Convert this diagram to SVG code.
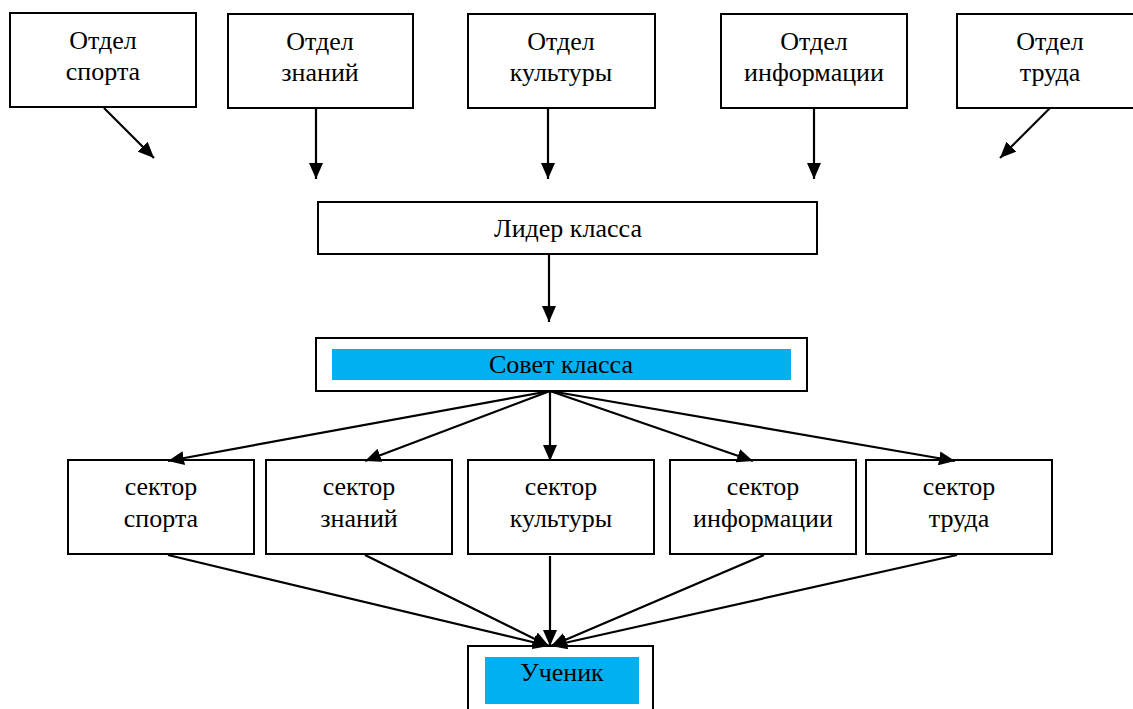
<svg xmlns="http://www.w3.org/2000/svg" width="1133" height="709" viewBox="0 0 1133 709">
<style>
.box{fill:#fff;stroke:#000;stroke-width:2}
.hl{fill:#00B0F0;stroke:none}
.t{font-size:26px;fill:#000;text-anchor:middle}
.c{stroke:#000;stroke-width:2.2;fill:none;marker-end:url(#ah)}
</style>
<defs>
<marker id="ah" viewBox="0 0 16 14" refX="16" refY="7" markerWidth="16" markerHeight="14" markerUnits="userSpaceOnUse" orient="auto">
<path d="M0,0 L16,7 L0,14 z" fill="#000"/>
</marker>
</defs>
<rect width="1133" height="709" fill="#fff"/>
<g font-family="'Liberation Serif', 'Times New Roman', Times, serif">
<g id="otdel-sporta"><rect class="box" x="10" y="13" width="186" height="94"/><text class="t" x="103" y="49">Отдел</text><text class="t" x="103" y="80">спорта</text></g>
<g id="otdel-znaniy"><rect class="box" x="228" y="14" width="185" height="94"/><text class="t" x="320" y="50">Отдел</text><text class="t" x="320" y="81">знаний</text></g>
<g id="otdel-kultury"><rect class="box" x="468" y="14" width="187" height="94"/><text class="t" x="561" y="50">Отдел</text><text class="t" x="561" y="81">культуры</text></g>
<g id="otdel-informatsii"><rect class="box" x="721" y="14" width="186" height="94"/><text class="t" x="814" y="50">Отдел</text><text class="t" x="814" y="81">информации</text></g>
<g id="otdel-truda"><rect class="box" x="957" y="14" width="186" height="94"/><text class="t" x="1050" y="50">Отдел</text><text class="t" x="1050" y="81">труда</text></g>
<g id="lider"><rect class="box" x="318" y="202" width="499" height="52"/><text class="t" x="568" y="237">Лидер класса</text></g>
<g id="sovet"><rect class="box" x="316" y="338" width="491" height="53"/><rect class="hl" x="332" y="349" width="459" height="31"/><text class="t" x="561" y="373">Совет класса</text></g>
<g id="sektor-sporta"><rect class="box" x="68" y="460" width="186" height="94"/><text class="t" x="161" y="495">сектор</text><text class="t" x="161" y="527">спорта</text></g>
<g id="sektor-znaniy"><rect class="box" x="266" y="460" width="186" height="94"/><text class="t" x="359" y="495">сектор</text><text class="t" x="359" y="527">знаний</text></g>
<g id="sektor-kultury"><rect class="box" x="468" y="460" width="186" height="94"/><text class="t" x="561" y="495">сектор</text><text class="t" x="561" y="527">культуры</text></g>
<g id="sektor-informatsii"><rect class="box" x="670" y="460" width="186" height="94"/><text class="t" x="763" y="495">сектор</text><text class="t" x="763" y="527">информации</text></g>
<g id="sektor-truda"><rect class="box" x="866" y="460" width="186" height="94"/><text class="t" x="959" y="495">сектор</text><text class="t" x="959" y="527">труда</text></g>
<g id="uchenik"><rect class="box" x="468" y="646" width="185" height="80"/><rect class="hl" x="485" y="657" width="154" height="47"/><text class="t" x="562" y="681">Ученик</text></g>
</g>
<g id="connectors">
<line class="c" x1="104" y1="108" x2="154" y2="158"/>
<line class="c" x1="316" y1="108" x2="316" y2="179"/>
<line class="c" x1="548" y1="108" x2="548" y2="179"/>
<line class="c" x1="814" y1="108" x2="814" y2="179"/>
<line class="c" x1="1050" y1="108" x2="1000" y2="158"/>
<line class="c" x1="549" y1="254" x2="549" y2="322"/>
<line class="c" x1="550" y1="391" x2="168" y2="461"/>
<line class="c" x1="550" y1="391" x2="365" y2="461"/>
<line class="c" x1="550" y1="391" x2="550" y2="461"/>
<line class="c" x1="550" y1="391" x2="753" y2="461"/>
<line class="c" x1="550" y1="391" x2="955" y2="461"/>
<line class="c" x1="168" y1="555" x2="549" y2="646"/>
<line class="c" x1="365" y1="555" x2="549" y2="646"/>
<line class="c" x1="550" y1="556" x2="550" y2="646"/>
<line class="c" x1="764" y1="555" x2="551" y2="646"/>
<line class="c" x1="957" y1="555" x2="551" y2="646"/>
</g>
</svg>
